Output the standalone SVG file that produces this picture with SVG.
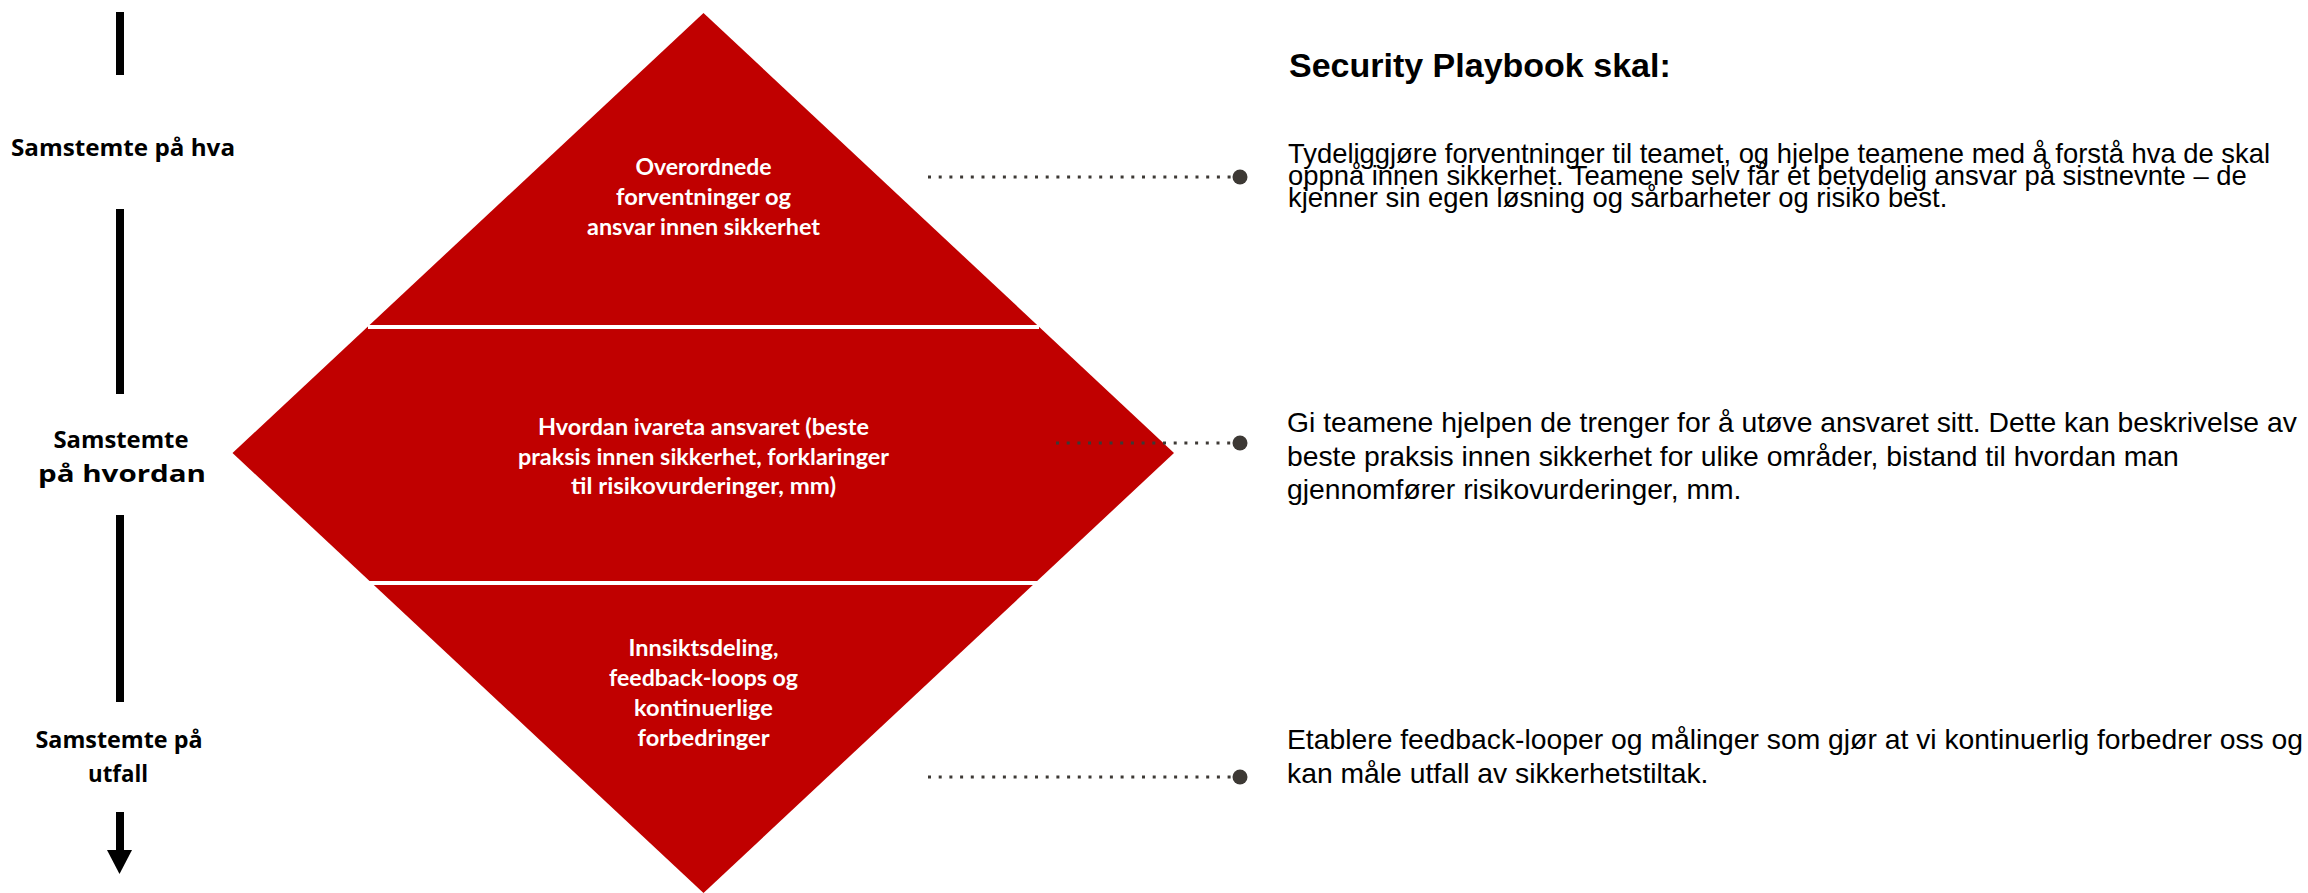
<svg xmlns="http://www.w3.org/2000/svg" width="2308" height="893" viewBox="0 0 2308 893">
<style>
.lbl{font-family:"Open Sans","DejaVu Sans",sans-serif;font-weight:700;font-size:24px;fill:#000;text-anchor:middle}
.dtx{font-family:Lato,"Open Sans",sans-serif;font-weight:700;font-size:22px;fill:#fff;text-anchor:middle}
.para{font-family:"Liberation Sans",Arial,sans-serif;font-size:28.3px;fill:#000}
.p1{font-size:27.4px}
.head{font-family:"Liberation Sans",Arial,sans-serif;font-weight:700;font-size:34px;fill:#000}
.bar{fill:#000}
.dot{fill:none;stroke:#3d3935;stroke-width:3;stroke-dasharray:3 7.7}
.end{fill:#3d3935}
</style>
<rect width="2308" height="893" fill="#fff"/>
<g id="axis">
<rect class="bar" x="116" y="12" width="8" height="63"/>
<rect class="bar" x="116" y="209" width="8" height="185"/>
<rect class="bar" x="116" y="515" width="8" height="187"/>
<rect class="bar" x="116" y="812" width="8" height="40"/>
<polygon class="bar" points="107,850 132,850 119.5,874"/>
</g>
<g id="label-hva">
<text class="lbl" x="123" y="156" textLength="224" lengthAdjust="spacingAndGlyphs">Samstemte på hva</text>
</g>
<g id="label-hvordan">
<text class="lbl" x="121" y="448" textLength="135" lengthAdjust="spacingAndGlyphs">Samstemte</text>
<text class="lbl" x="122" y="482" textLength="168" lengthAdjust="spacingAndGlyphs">på hvordan</text>
</g>
<g id="label-utfall">
<text class="lbl" x="119" y="748" textLength="167" lengthAdjust="spacingAndGlyphs">Samstemte på</text>
<text class="lbl" x="118" y="782" textLength="60" lengthAdjust="spacingAndGlyphs">utfall</text>
</g>
<g id="diamond">
<polygon points="703.5,13 1174,453 703.5,893 232.5,453" fill="#c00000"/>
<rect x="368" y="325" width="671" height="4" fill="#fff"/>
<rect x="368" y="581" width="671" height="4" fill="#fff"/>
</g>
<g id="tier-1">
<text class="dtx" x="703.5" y="175" textLength="136" lengthAdjust="spacingAndGlyphs">Overordnede</text>
<text class="dtx" x="703.5" y="205" textLength="175" lengthAdjust="spacingAndGlyphs">forventninger og</text>
<text class="dtx" x="703.5" y="235" textLength="233" lengthAdjust="spacingAndGlyphs">ansvar innen sikkerhet</text>
</g>
<g id="tier-2">
<text class="dtx" x="703.5" y="435" textLength="331" lengthAdjust="spacingAndGlyphs">Hvordan ivareta ansvaret (beste</text>
<text class="dtx" x="703.5" y="465" textLength="371" lengthAdjust="spacingAndGlyphs">praksis innen sikkerhet, forklaringer</text>
<text class="dtx" x="703.5" y="494" textLength="265" lengthAdjust="spacingAndGlyphs">til risikovurderinger, mm)</text>
</g>
<g id="tier-3">
<text class="dtx" x="703.5" y="656" textLength="150" lengthAdjust="spacingAndGlyphs">Innsiktsdeling,</text>
<text class="dtx" x="703.5" y="686" textLength="189" lengthAdjust="spacingAndGlyphs">feedback-loops og</text>
<text class="dtx" x="703.5" y="716" textLength="139" lengthAdjust="spacingAndGlyphs">kontinuerlige</text>
<text class="dtx" x="703.5" y="746" textLength="132" lengthAdjust="spacingAndGlyphs">forbedringer</text>
</g>
<g id="connectors">
<line class="dot" x1="928" y1="177" x2="1236" y2="177"/>
<circle class="end" cx="1240" cy="177" r="7.5"/>
<line class="dot" x1="1056" y1="443" x2="1236" y2="443"/>
<circle class="end" cx="1240" cy="443" r="7.5"/>
<line class="dot" x1="928" y1="777" x2="1236" y2="777"/>
<circle class="end" cx="1240" cy="777" r="7.5"/>
</g>
<g id="heading">
<text class="head" x="1289" y="77">Security Playbook skal:</text>
</g>
<g id="desc-1">
<text class="para p1" x="1288" y="163">Tydeliggjøre forventninger til teamet, og hjelpe teamene med å forstå hva de skal</text>
<text class="para p1" x="1288" y="185">oppnå innen sikkerhet. Teamene selv får et betydelig ansvar på sistnevnte – de</text>
<text class="para p1" x="1288" y="207">kjenner sin egen løsning og sårbarheter og risiko best.</text>
</g>
<g id="desc-2">
<text class="para" x="1287" y="432">Gi teamene hjelpen de trenger for å utøve ansvaret sitt. Dette kan beskrivelse av</text>
<text class="para" x="1287" y="466">beste praksis innen sikkerhet for ulike områder, bistand til hvordan man</text>
<text class="para" x="1287" y="499">gjennomfører risikovurderinger, mm.</text>
</g>
<g id="desc-3">
<text class="para" x="1287" y="749">Etablere feedback-looper og målinger som gjør at vi kontinuerlig forbedrer oss og</text>
<text class="para" x="1287" y="783">kan måle utfall av sikkerhetstiltak.</text>
</g>
</svg>
